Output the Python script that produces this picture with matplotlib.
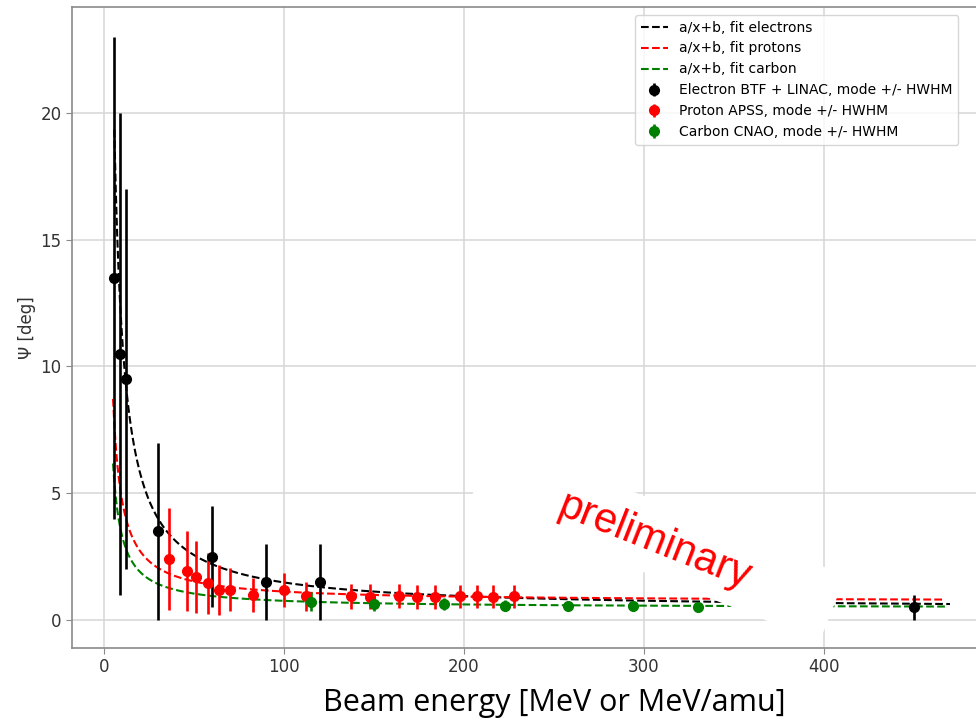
import numpy as np
import matplotlib
matplotlib.use("Agg")
import matplotlib.pyplot as plt
import matplotlib.transforms as mtransforms
from matplotlib.patches import Rectangle

# Electron BTF + LINAC: energy [MeV], mode and HWHM [deg]
e_energy = [5.6, 9, 12, 30, 60, 90, 120, 450]
e_mode = [13.5, 10.5, 9.5, 3.5, 2.5, 1.5, 1.5, 0.5]
e_hwhm = [9.5, 9.5, 7.5, 3.5, 2.0, 1.5, 1.5, 0.5]

# Proton APSS
p_energy = [36, 46, 51, 58, 64, 70, 83, 100, 112, 137, 148, 164, 174, 184, 198, 207, 216, 228]
p_mode = [2.4, 1.92, 1.71, 1.45, 1.18, 1.2, 0.98, 1.18, 0.93, 0.93, 0.92, 0.93, 0.92, 0.92, 0.93, 0.93, 0.92, 0.93]
p_hwhm = [2.0, 1.58, 1.42, 1.2, 0.98, 0.86, 0.66, 0.66, 0.56, 0.5, 0.5, 0.47, 0.47, 0.47, 0.46, 0.46, 0.46, 0.46]

# Carbon CNAO [MeV/amu]
c_energy = [115, 150, 189, 223, 258, 294, 330]
c_mode = [0.72, 0.63, 0.63, 0.57, 0.57, 0.57, 0.5]
c_hwhm = [0.37, 0.28, 0.25, 0.2, 0.15, 0.12, 0.1]

# a/x + b fit parameters and plotted energy ranges
fit_e = (108.0, 0.40, 5.7, 470)
fit_p = (40.0, 0.72, 5.0, 467)
fit_c = (28.5, 0.47, 5.0, 469)

fig = plt.figure(figsize=(9.76, 7.18), dpi=100)
ax = fig.add_axes([72 / 976, 70 / 718, 919 / 976, 641 / 718])

for (a, b, x0, x1), col, lab in [(fit_e, "black", "a/x+b, fit electrons"),
                                  (fit_p, "red", "a/x+b, fit protons"),
                                  (fit_c, "green", "a/x+b, fit carbon")]:
    xs = np.linspace(x0, x1, 600)
    ax.plot(xs, a / xs + b, ls="--", color=col, lw=1.5, label=lab, zorder=2)

ekw = dict(fmt="o", markersize=7, elinewidth=1.9, capsize=0, zorder=2.2)
ax.errorbar(e_energy, e_mode, yerr=e_hwhm, color="black",
            label="Electron BTF + LINAC, mode +/- HWHM", **ekw)
ax.errorbar(p_energy, p_mode, yerr=p_hwhm, color="red",
            label="Proton APSS, mode +/- HWHM", **ekw)
ax.errorbar(c_energy, c_mode, yerr=c_hwhm, color="green",
            label="Carbon CNAO, mode +/- HWHM", **ekw)

ax.set_xlim(-17.8, 492.8)
ax.set_ylim(-1.105, 24.18)
ax.set_xticks([0, 100, 200, 300, 400])
ax.set_yticks([0, 5, 10, 15, 20])
ax.grid(True, color="#d6d6d6", linewidth=1.1)
ax.set_axisbelow(True)
for s in ax.spines.values():
    s.set_color("#8a8a8a")
    s.set_linewidth(1.2)
ax.tick_params(colors="#8a8a8a", labelcolor="#333333", labelsize=12, length=4)
ax.set_ylabel("Ψ [deg]", fontsize=12, color="#333333", labelpad=3)

# white band behind the watermark
band = Rectangle((-377 / 2, -71 / 2), 377, 71, facecolor="white", edgecolor="none", zorder=3,
                 transform=mtransforms.Affine2D().rotate_deg(-21.5)
                 + mtransforms.ScaledTranslation(307.4, 3.18, ax.transData))
ax.add_patch(band)
ax.text(306, 3.08, "preliminary", rotation=-21.5, rotation_mode="anchor",
        ha="center", va="center", color="red", fontsize=30,
        family="Liberation Sans", zorder=4)

leg = ax.legend(loc="upper left", bbox_to_anchor=((635 - 72) / 919, (648 - 15) / 641),
                borderaxespad=0, fontsize=10, labelspacing=0.5)
leg.set_zorder(5)

fig.text(554 / 976, 7 / 718, "Beam energy [MeV or MeV/amu]", ha="center", va="baseline",
         fontsize=22, family="Open Sans", color="black")

fig.savefig("out.png", dpi=100)
